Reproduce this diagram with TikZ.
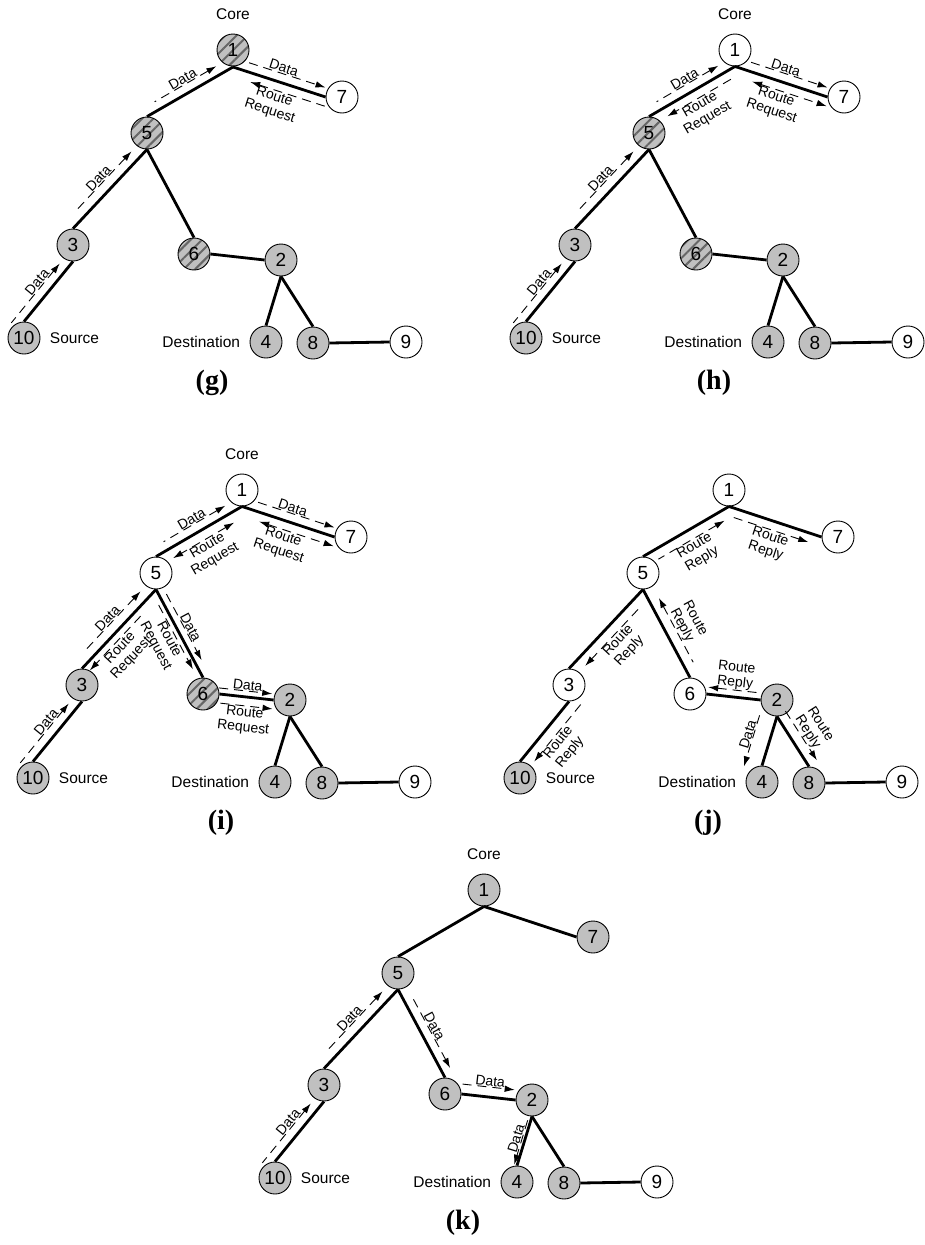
\documentclass[tikz,border=0pt]{standalone}
\usepackage{fontspec}
\setmainfont{Liberation Serif}
\setsansfont{Liberation Sans}
\usetikzlibrary{arrows.meta,calc,positioning,patterns.meta}

\definecolor{nodegray}{RGB}{192,192,192}

% the ten-node tree; #1 = name prefix, #2..#6 = styles of nodes 1,7,5,3,6
\newcommand{\meshtree}[6]{%
  \node[#2] (#1-1) at (233,50) {1};
  \node[#3] (#1-7) at (342,97) {7};
  \node[#4] (#1-5) at (147,133) {5};
  \node[#5] (#1-3) at (73,245) {3};
  \node[#6] (#1-6) at (194,254) {6};
  \node[greynode] (#1-2) at (281,260) {2};
  \node[greynode] (#1-10) at (24,338) {10};
  \node[greynode] (#1-4) at (266,342) {4};
  \node[greynode] (#1-8) at (313,343) {8};
  \node[freenode] (#1-9) at (406,342) {9};
  \draw[link] (#1-1.south) -- (#1-5.north);
  \draw[link] (#1-1.south) -- (#1-7.west);
  \draw[link] (#1-5.south) -- (#1-3.north);
  \draw[link] (#1-5.south) -- (#1-6.north);
  \draw[link] (#1-3.south) -- (#1-10.north);
  \draw[link] (#1-6.east) -- (#1-2.west);
  \draw[link] (#1-2.south) -- (#1-4.north);
  \draw[link] (#1-2.south) -- (#1-8.north);
  \draw[link] (#1-8.east) -- (#1-9.west);
  \node[tag, right=6pt of #1-10] {Source};
  \node[tag, left=6pt of #1-4] {Destination};
  \node[caption] at (212,383) {(#1)};
}

% dashed message arrow beside a link; #4 = offset (+ left of #2->#3)
\newcommand{\msgarrow}[6][]{%
  \draw[msgline,#1] ($(#2)!#4!90:(#3)$) -- ($(#3)!#4!-90:(#2)$)
    node[msglabel,#5] {#6};
}

\begin{document}
\begin{tikzpicture}[x=1pt,y=-1pt,
    >={Latex[length=10pt,width=6.5pt]},
    basenode/.style={circle, draw, line width=0.9pt, minimum size=32pt, inner sep=0pt,
      font=\sffamily\fontsize{19}{19}\selectfont},
    freenode/.style={basenode, fill=white},
    greynode/.style={basenode, fill=nodegray},
    hatchnode/.style={basenode, preaction={fill=nodegray},
      pattern={Lines[angle=45,distance=8pt,line width=2pt]}, pattern color=black!60},
    link/.style={line width=2.8pt},
    msgline/.style={line width=0.9pt, dash pattern=on 9pt off 6pt,
      shorten <=12pt, shorten >=12pt},
    msglabel/.style={midway, sloped, inner sep=0.5pt, align=center,
      font=\sffamily\fontsize{14}{15}\selectfont},
    tag/.style={font=\sffamily\fontsize{15.5}{16}\selectfont},
    caption/.style={font=\rmfamily\bfseries\fontsize{28}{30}\selectfont}]
  \useasboundingbox (0,0) rectangle (925,1245);

  % (g)
  \begin{scope}
    \meshtree{g}{hatchnode}{freenode}{hatchnode}{greynode}{hatchnode}
    \node[tag, above=10pt of g-1] {Core};
    \msgarrow[<-, shorten <=10pt, shorten >=-9pt]{g-3.south}{g-10.north}{-9pt}{above}{Data}
    \msgarrow[<-, shorten <=12pt, shorten >=18pt]{g-5.south}{g-3.north}{-10pt}{above}{Data}
    \msgarrow[<-, shorten <=14pt, shorten >=14pt]{g-1.south}{g-5.north}{-9pt}{above}{Data}
    \msgarrow[->, shorten <=14pt, shorten >=3pt]{g-1.south}{g-7.west}{9pt}{above}{Data}
    \msgarrow[<-, shorten <=21pt, shorten >=-2pt]{g-1.south}{g-7.west}{-9pt}{below}{Route\\Request}
  \end{scope}

  % (h)
  \begin{scope}[shift={(502,0)}]
    \meshtree{h}{freenode}{freenode}{hatchnode}{greynode}{hatchnode}
    \node[tag, above=10pt of h-1] {Core};
    \msgarrow[<-, shorten <=10pt, shorten >=-9pt]{h-3.south}{h-10.north}{-9pt}{above}{Data}
    \msgarrow[<-, shorten <=12pt, shorten >=18pt]{h-5.south}{h-3.north}{-10pt}{above}{Data}
    \msgarrow[<-, shorten <=14pt, shorten >=14pt]{h-1.south}{h-5.north}{-9pt}{above}{Data}
    \msgarrow[->, shorten <=10pt, shorten >=16pt]{h-1.south}{h-5.north}{9pt}{below}{Route\\Request}
    \msgarrow[->, shorten <=14pt, shorten >=3pt]{h-1.south}{h-7.west}{9pt}{above}{Data}
    \msgarrow[<->, shorten <=21pt, shorten >=-2pt]{h-1.south}{h-7.west}{-9pt}{below}{Route\\Request}
  \end{scope}

  % (i)
  \begin{scope}[shift={(9,440)}]
    \meshtree{i}{freenode}{freenode}{freenode}{greynode}{hatchnode}
    \node[tag, above=10pt of i-1] {Core};
    \msgarrow[<-, shorten <=10pt, shorten >=-9pt]{i-3.south}{i-10.north}{-9pt}{above}{Data}
    \msgarrow[<-, shorten <=12pt, shorten >=18pt]{i-5.south}{i-3.north}{-10pt}{above}{Data}
    \msgarrow[->, shorten <=30pt, shorten >=4pt]{i-5.south}{i-3.north}{7pt}{below, pos=0.62}{Route\\Request}
    \msgarrow[<-, shorten <=14pt, shorten >=14pt]{i-1.south}{i-5.north}{-9pt}{above}{Data}
    \msgarrow[<->, shorten <=15pt, shorten >=14pt]{i-1.south}{i-5.north}{10pt}{below}{Route\\Request}
    \msgarrow[->, shorten <=14pt, shorten >=3pt]{i-1.south}{i-7.west}{9pt}{above}{Data}
    \msgarrow[<->, shorten <=21pt, shorten >=-2pt]{i-1.south}{i-7.west}{-9pt}{below}{Route\\Request}
    \msgarrow[->, shorten <=9pt, shorten >=16pt]{i-5.south}{i-6.north}{7pt}{above}{Data}
    \msgarrow[->, shorten <=15pt, shorten >=12pt]{i-5.south}{i-6.north}{-5pt}{below}{Route\\Request}
    \msgarrow[->, shorten <=-1pt, shorten >=2pt]{i-6.east}{i-2.west}{6pt}{above}{Data}
    \msgarrow[->, shorten <=2pt, shorten >=0pt]{i-6.east}{i-2.west}{-9pt}{below}{Route\\Request}
  \end{scope}

  % (j)
  \begin{scope}[shift={(496,440)}]
    \meshtree{j}{freenode}{freenode}{freenode}{freenode}{freenode}
    \msgarrow[<-, shorten <=11pt, shorten >=12pt]{j-1.south}{j-5.north}{10pt}{below}{Route\\Reply}
    \msgarrow[->, shorten <=8pt, shorten >=11pt]{j-1.south}{j-7.west}{-9pt}{below}{Route\\Reply}
    \msgarrow[<-, shorten <=15pt, shorten >=12pt]{j-5.south}{j-6.north}{10pt}{above}{Route\\Reply}
    \msgarrow[->, shorten <=18pt, shorten >=13pt]{j-5.south}{j-3.north}{10pt}{below}{Route\\Reply}
    \msgarrow[->, shorten <=-5pt, shorten >=9pt]{j-3.south}{j-10.north}{11pt}{below}{Route\\Reply}
    \msgarrow[<-, shorten <=1pt, shorten >=-1pt]{j-6.east}{j-2.west}{7pt}{above}{Route\\Reply}
    \msgarrow[->, shorten <=4pt, shorten >=-6pt]{j-2.south}{j-4.north}{-17pt}{above}{Data}
    \msgarrow[->, shorten <=0pt, shorten >=1pt]{j-2.south}{j-8.north}{10pt}{above}{Route\\Reply}
  \end{scope}

  % (k)
  \begin{scope}[shift={(251,840)}]
    \meshtree{k}{greynode}{greynode}{greynode}{greynode}{greynode}
    \node[tag, above=10pt of k-1] {Core};
    \msgarrow[<-, shorten <=10pt, shorten >=-9pt]{k-3.south}{k-10.north}{-9pt}{above}{Data}
    \msgarrow[<-, shorten <=12pt, shorten >=18pt]{k-5.south}{k-3.north}{-10pt}{above}{Data}
    \msgarrow[->, shorten <=16pt, shorten >=6pt]{k-5.south}{k-6.north}{9pt}{above}{Data}
    \msgarrow[->, shorten <=0pt, shorten >=2pt]{k-6.east}{k-2.west}{10pt}{above}{Data}
    \msgarrow[->, shorten <=5pt, shorten >=0pt]{k-2.south}{k-4.north}{-3pt}{above}{Data}
  \end{scope}
\end{tikzpicture}
\end{document}
